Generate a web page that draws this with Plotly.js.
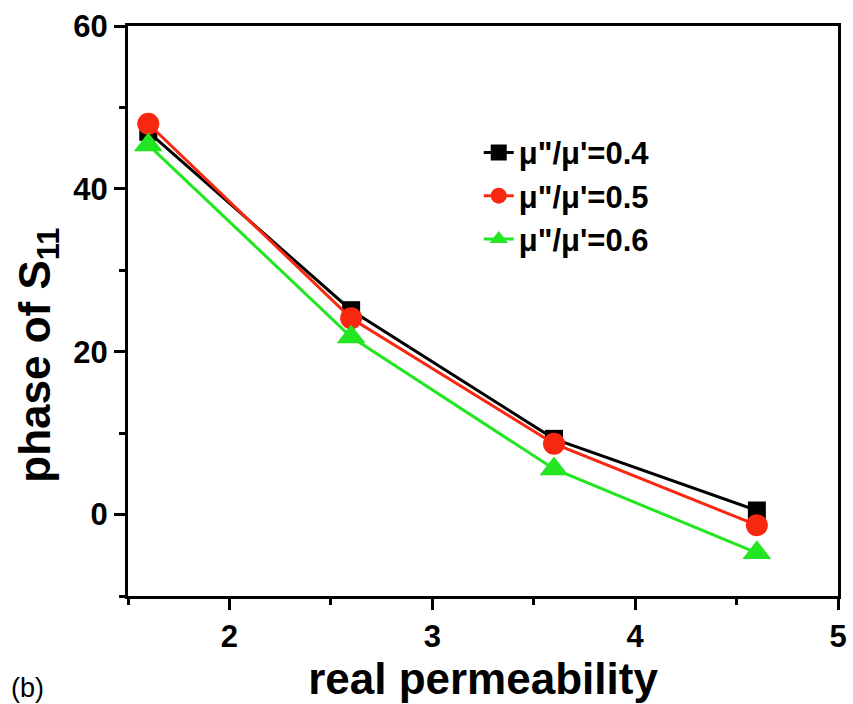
<!DOCTYPE html>
<html>
<head>
<meta charset="utf-8">
<script src="https://cdn.plot.ly/plotly-3.0.1.min.js"></script>
<style>html,body{margin:0;padding:0;background:#fff;}#chart{width:853px;height:704px;}</style>
</head>
<body>
<div id="chart"></div>
<script>
const permeability = [1.6, 2.6, 3.6, 4.6];
const phase04 = [47.0, 25.1, 9.3, 0.5];
const phase05 = [48.0, 24.1, 8.7, -1.3];
const phase06 = [45.4, 21.8, 5.6, -4.7];
const seriesNames = ['μ"/μ\'=0.4', 'μ"/μ\'=0.5', 'μ"/μ\'=0.6'];
const xTicks = [2, 3, 4, 5];
const yTicks = [0, 20, 40, 60];

const traces = [
  {x: permeability, y: phase04, name: seriesNames[0], mode: 'lines+markers',
   line: {color: '#000000', width: 3}, marker: {symbol: 'square', size: 18, color: '#000000'}},
  {x: permeability, y: phase05, name: seriesNames[1], mode: 'lines+markers',
   line: {color: '#f82810', width: 3}, marker: {symbol: 'circle', size: 22, color: '#f82810'}},
  {x: permeability, y: phase06, name: seriesNames[2], mode: 'lines+markers',
   line: {color: '#22e622', width: 3}, marker: {symbol: 'triangle-up', size: 25, color: '#22e622'}}
];

const axisFont = {family: 'Arial, Liberation Sans, sans-serif', size: 31, color: '#000', weight: 'bold'};
const layout = {
  width: 853, height: 704,
  margin: {l: 128, r: 15, t: 26, b: 108},
  paper_bgcolor: '#fff', plot_bgcolor: '#fff',
  showlegend: true,
  legend: {x: 0.494, y: 0.825, xanchor: 'left', yanchor: 'top', bgcolor: 'rgba(0,0,0,0)',
           font: {family: 'Arial, Liberation Sans, sans-serif', size: 31, color: '#000', weight: 'bold'},
           tracegroupgap: 0, itemwidth: 30},
  xaxis: {range: [1.5, 5], tickvals: xTicks, ticktext: xTicks.map(String),
          ticks: 'outside', ticklen: 11, tickwidth: 3, tickcolor: '#000',
          minor: {dtick: 0.5, tick0: 0, ticks: 'outside', ticklen: 6, tickwidth: 3, tickcolor: '#000'},
          showline: true, linewidth: 3, linecolor: '#000', mirror: true,
          showgrid: false, zeroline: false,
          tickfont: axisFont,
          title: {text: 'real permeability', standoff: 4,
                  font: {family: 'Arial, Liberation Sans, sans-serif', size: 44, color: '#000', weight: 'bold'}}},
  yaxis: {range: [-10, 60], tickvals: yTicks, ticktext: yTicks.map(String),
          ticks: 'outside', ticklen: 11, tickwidth: 3, tickcolor: '#000',
          minor: {dtick: 10, tick0: 0, ticks: 'outside', ticklen: 6, tickwidth: 3, tickcolor: '#000'},
          showline: true, linewidth: 3, linecolor: '#000', mirror: true,
          showgrid: false, zeroline: false,
          tickfont: axisFont},
  annotations: [
    {text: 'phase of S<sub>11</sub>', textangle: -90, xref: 'paper', yref: 'paper',
     x: -0.127, y: 0.423, xanchor: 'center', yanchor: 'middle', showarrow: false,
     font: {family: 'Arial, Liberation Sans, sans-serif', size: 44, color: '#000', weight: 'bold'}},
    {text: '(b)', xref: 'paper', yref: 'paper', x: -0.168, y: -0.162, xanchor: 'left', yanchor: 'middle',
     showarrow: false, font: {family: 'Arial, Liberation Sans, sans-serif', size: 27, color: '#000'}}
  ]
};

Plotly.newPlot('chart', traces, layout, {displayModeBar: false, staticPlot: true});
</script>
</body>
</html>
